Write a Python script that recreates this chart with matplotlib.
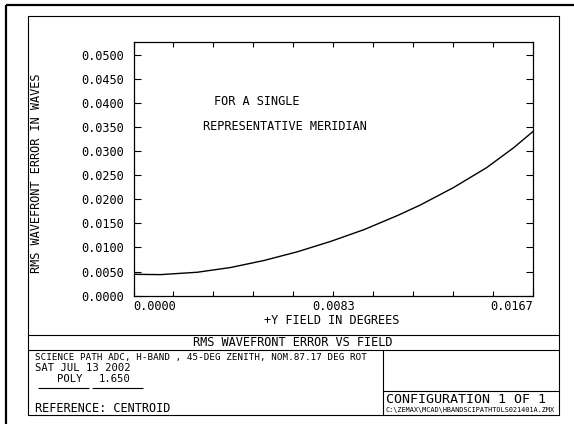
import matplotlib
matplotlib.use('Agg')
import matplotlib.pyplot as plt

# field points (degrees) and rms wavefront error (waves)
FIELD = [0.0, 0.00112, 0.00266, 0.00405, 0.00545, 0.00685, 0.00825, 0.00964,
         0.01104, 0.01198, 0.01337, 0.01476, 0.01588, 0.0167]
RMS = [0.00444, 0.00437, 0.00486, 0.00584, 0.0073, 0.00911, 0.01128, 0.01372,
       0.01665, 0.0188, 0.02243, 0.02658, 0.03068, 0.0341]

X_TICKS = [i * 0.00167 for i in range(11)]
X_LABELS = ['0.0000', '', '', '', '', '0.0083', '', '', '', '', '0.0167']
Y_TICKS = [i * 0.005 for i in range(11)]
Y_LABELS = ['%.4f' % v for v in Y_TICKS]

TITLE = 'RMS WAVEFRONT ERROR VS FIELD'
X_LABEL = '+Y FIELD IN DEGREES'
Y_LABEL = 'RMS WAVEFRONT ERROR IN WAVES'
NOTE_1 = 'FOR A SINGLE'
NOTE_2 = 'REPRESENTATIVE MERIDIAN'
LENS = 'SCIENCE PATH ADC, H-BAND , 45-DEG ZENITH, NOM.87.17 DEG ROT'
DATE = 'SAT JUL 13 2002'
REF = 'REFERENCE: CENTROID'
CONFIG = 'CONFIGURATION 1 OF 1'
PATH = 'C:\\ZEMAX\\MCAD\\HBANDSCIPATHTOLS021401A.ZMX'

W, H = 574, 424
MONO = 'DejaVu Sans Mono'
FS = 8.6

fig = plt.figure(figsize=(W / 100, H / 100), dpi=100)

# overlay in pixel coordinates for the frame and the text block
ov = fig.add_axes([0, 0, 1, 1])
ov.set_xlim(0, W)
ov.set_ylim(H, 0)
ov.axis('off')


def line(xs, ys, lw=0.8):
    ov.plot(xs, ys, color='black', lw=lw, solid_capstyle='butt')


def txt(x, y, s, size=FS, **kw):
    # y is the visual middle of capital letters
    ov.text(x, y + 0.365 * size * 100 / 72, s, fontsize=size, va='baseline',
            family=MONO, color='black', **kw)


# outer frame (left and top only are visible)
line([6, 6], [5, H], lw=1.6)
line([6, W], [5, 5], lw=1.6)
# inner box
L, R, T, B = 27.5, 559, 16, 414.5
line([L, R, R, L, L], [T, T, B, B, T])
line([L, R], [335, 335])
line([L, R], [349.5, 349.5])
line([382.5, 382.5], [349.5, B])
line([382.5, R], [390.7, 390.7])
line([37.7, 88.6], [388, 388])
line([91.5, 142.8], [388, 388])

txt(293, 342, TITLE, ha='center')
txt(34.8, 357, LENS, size=6.7)
txt(34.8, 367, DATE, size=7.6)
txt(56.7, 378.5, 'POLY', size=7.6)
txt(98.8, 378.5, '1.650', size=7.6)
txt(34.8, 407.5, REF)
txt(386, 398.5, CONFIG, size=9.6)
txt(386, 409.5, PATH, size=4.95)
txt(257, 101, NOTE_1, ha='center')
txt(285, 126, NOTE_2, ha='center')

# main plot
ax_l, ax_r, ax_t, ax_b = 133.5, 533.3, 42.0, 295.7
ax = fig.add_axes([ax_l / W, 1 - ax_b / H, (ax_r - ax_l) / W, (ax_b - ax_t) / H])
ax.patch.set_alpha(0)
ax.plot(FIELD, RMS, color='black', lw=1.0)
ax.set_xlim(0, 0.0167)
ax.set_ylim(0, 0.0526)

ax.set_xticks(X_TICKS)
ax.set_xticklabels(X_LABELS)
ax.set_yticks(Y_TICKS)
ax.set_yticklabels(Y_LABELS)
ax.tick_params(axis='y', direction='in', length=5, width=0.8, left=True, right=True,
               pad=6.5, labelsize=FS)
ax.tick_params(axis='x', direction='in', length=3.5, width=0.8, bottom=True, top=True,
               pad=3, labelsize=FS)
for lab in ax.get_xticklabels() + ax.get_yticklabels():
    lab.set_family(MONO)
xl = ax.get_xticklabels()
xl[0].set_ha('left')
xl[-1].set_ha('right')
for s in ax.spines.values():
    s.set_linewidth(0.9)

ax.set_xlabel(X_LABEL, fontsize=FS, family=MONO, va='center')
ax.xaxis.set_label_coords(0.495, (ax_b - 320.5) / (ax_b - ax_t))
ax.set_ylabel(Y_LABEL, fontsize=FS, family=MONO, ha='center', va='center')
ax.yaxis.set_label_coords((36.6 - ax_l) / (ax_r - ax_l), (ax_b - 173.5) / (ax_b - ax_t))

fig.savefig('out.png', dpi=100)
